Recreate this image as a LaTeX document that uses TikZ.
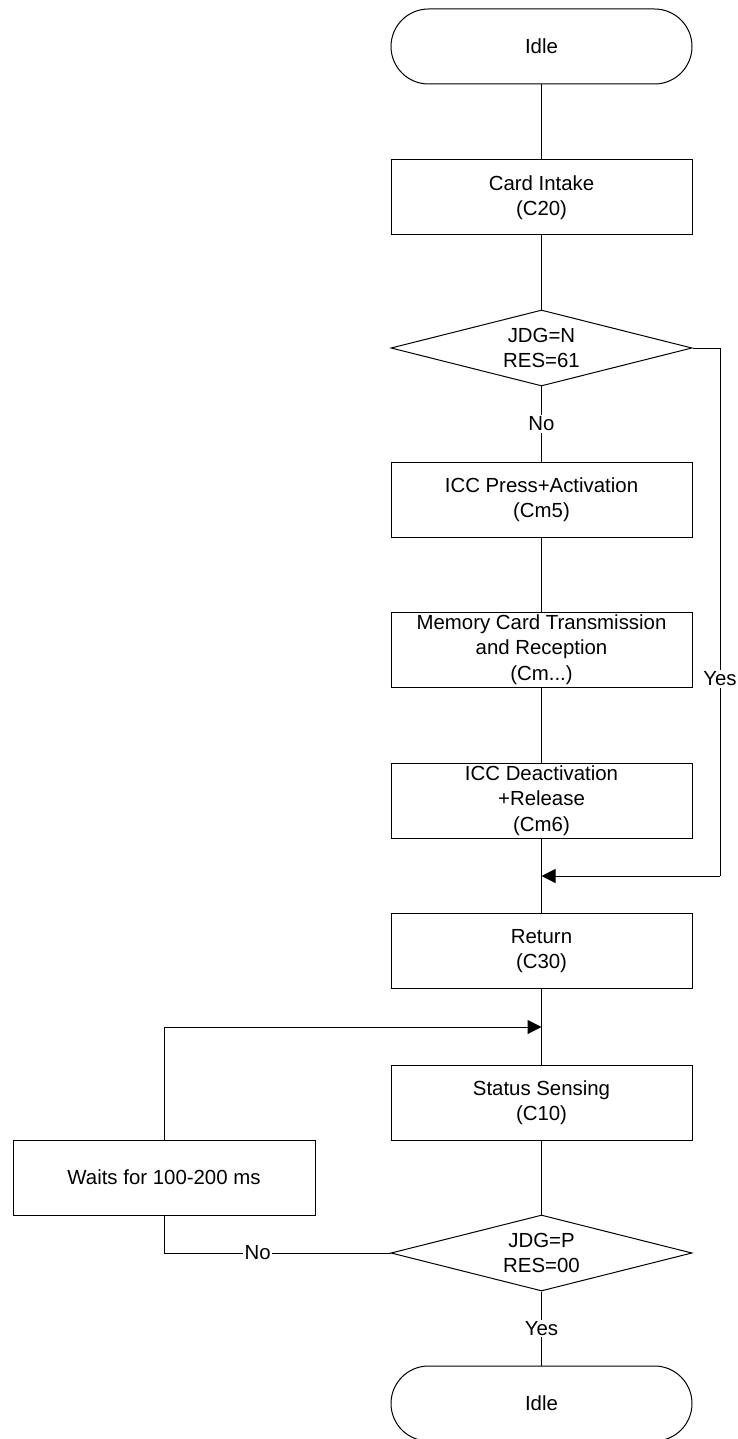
\documentclass[tikz,border=0pt]{standalone}
\usepackage{fontspec}
\setmainfont{Liberation Sans}
\usetikzlibrary{arrows.meta,shapes.geometric}
\begin{document}
\begin{tikzpicture}[x=1pt,y=-1pt,
  every node/.style={font=\fontsize{20.4}{25.5}\selectfont},
  proc/.style={draw,line width=1pt,minimum width=301pt,minimum height=75pt,align=center,inner sep=0pt},
  term/.style={proc,rounded corners=37.5pt},
  decide/.style={draw,line width=1pt,diamond,aspect=4,minimum width=301pt,minimum height=76pt,align=center,inner sep=0pt},
  flow/.style={line width=1pt},
  tip/.style={flow,-{Triangle[length=14pt,width=14pt]}},
  lbl/.style={fill=white,inner sep=1.5pt}]
\useasboundingbox (0,0) rectangle (738,1439);

\node[term]   (idleA)  at (541.5,46.5)  {Idle};
\node[proc]   (intake) at (541.5,197.5) {Card Intake\\(C20)};
\node[decide] (chkN)   at (541.5,348)   {JDG=N\\RES=61};
\node[proc]   (press)  at (541.5,499.5) {ICC Press+Activation\\(Cm5)};
\node[proc]   (mem)    at (541.5,649.5) {Memory Card Transmission\\and Reception\\(Cm...)};
\node[proc]   (deact)  at (541.5,800.5) {ICC Deactivation\\+Release\\(Cm6)};
\node[proc]   (ret)    at (541.5,951)   {Return\\(C30)};
\node[proc]   (sense)  at (541.5,1102.5){Status Sensing\\(C10)};
\node[proc,minimum width=302pt] (wait) at (164,1177.5) {Waits for 100-200 ms};
\node[decide] (chkP)   at (541.5,1253)  {JDG=P\\RES=00};
\node[term]   (idleB)  at (541.5,1403.5){Idle};

\coordinate (joinA) at (541.5,876);
\coordinate (joinB) at (541.5,1027);
\coordinate (yesR)  at (720,348);
\coordinate (yesB)  at (720,876);
\coordinate (noL)   at (164,1253);
\coordinate (waitT) at (164,1027);

% main column
\draw[flow] (idleA) -- (intake);
\draw[flow] (intake) -- (chkN);
\draw[flow] (chkN) -- node[lbl]{No} (press);
\draw[flow] (press) -- (mem);
\draw[flow] (mem) -- (deact);
\draw[flow] (deact) -- (ret);
\draw[flow] (ret) -- (sense);
\draw[flow] (sense) -- (chkP);
\draw[flow] (chkP) -- node[lbl]{Yes} (idleB);

% bypass when the card is rejected
\draw[flow] (chkN.east) -- (yesR) -- node[lbl,pos=0.627]{Yes} (yesB);
\draw[tip] (yesB) -- (joinA);

% retry loop
\draw[flow] (chkP.west) -- node[lbl,pos=0.586]{No} (noL) -- (wait.south);
\draw[flow] (wait.north) -- (waitT);
\draw[tip] (waitT) -- (joinB);
\end{tikzpicture}
\end{document}
